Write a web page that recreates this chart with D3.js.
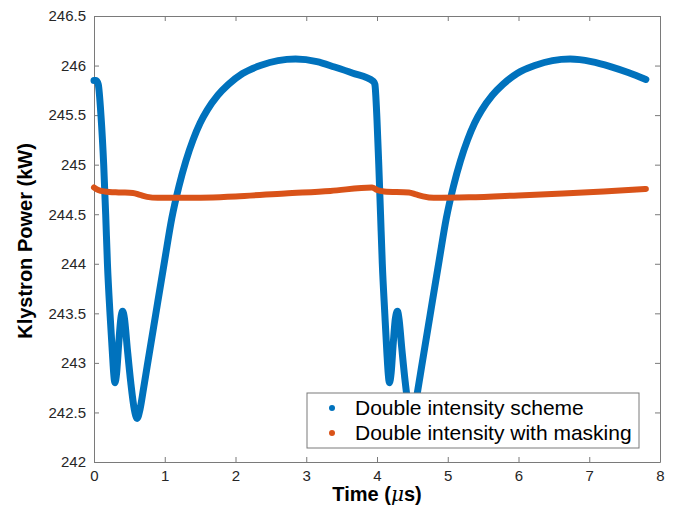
<!DOCTYPE html>
<html>
<head>
<meta charset="utf-8">
<script src="https://cdn.jsdelivr.net/npm/d3@7"></script>
<style>
  html, body { margin: 0; padding: 0; background: #fff; }
  svg { display: block; font-family: "Liberation Sans", Arial, Helvetica, sans-serif; }
</style>
</head>
<body>
<svg id="chart" width="675" height="510"></svg>
<script>
// ---- data ----
const blueTime = [0, 0.03, 0.06, 0.1, 0.137, 0.165, 0.19, 0.226, 0.26, 0.28, 0.295, 0.32, 0.35, 0.38, 0.405, 0.43, 0.47, 0.52, 0.57, 0.61, 0.65, 0.70, 0.75, 0.87, 1.0, 1.1, 1.2, 1.3, 1.4, 1.5, 1.6, 1.75, 1.9, 2.1, 2.35, 2.6, 2.85, 3.15, 3.4, 3.65, 3.95,
  3.97, 4.00, 4.025, 4.05, 4.075, 4.11, 4.14, 4.16, 4.175, 4.20, 4.23, 4.26, 4.29, 4.31, 4.35, 4.40, 4.45, 4.49, 4.53, 4.58, 4.63, 4.75, 4.88, 4.98, 5.08, 5.18, 5.28, 5.38, 5.48, 5.63, 5.78, 5.98, 6.23, 6.48, 6.73, 7.03, 7.3, 7.55, 7.8];
const bluePower = [245.85, 245.85, 245.81, 245.48, 245.0, 244.5, 244.0, 243.5, 243.1, 242.88, 242.8, 242.9, 243.2, 243.45, 243.52, 243.45, 243.15, 242.8, 242.53, 242.44, 242.53, 242.74, 242.96, 243.48, 244.04, 244.46, 244.78, 245.04, 245.25, 245.42, 245.55, 245.70, 245.81, 245.92, 246.0, 246.05, 246.065, 246.04, 245.985, 245.925, 245.84,
  245.81, 245.45, 245.0, 244.5, 244.0, 243.5, 243.1, 242.88, 242.8, 242.9, 243.2, 243.45, 243.52, 243.45, 243.15, 242.8, 242.53, 242.44, 242.53, 242.74, 242.96, 243.48, 244.04, 244.46, 244.78, 245.04, 245.25, 245.42, 245.55, 245.70, 245.81, 245.92, 246.0, 246.05, 246.065, 246.04, 245.99, 245.93, 245.86];

const orangeTime = [0, 0.06, 0.15, 0.35, 0.55, 0.65, 0.75, 0.9, 1.3, 2.0, 2.7, 3.34, 3.93, 4.0, 4.1, 4.45, 4.55, 4.65, 4.8, 5.3, 6.0, 6.63, 7.2, 7.8];
const orangePower = [244.77, 244.745, 244.73, 244.72, 244.715, 244.695, 244.675, 244.665, 244.665, 244.68, 244.71, 244.735, 244.77, 244.745, 244.73, 244.72, 244.70, 244.68, 244.665, 244.67, 244.69, 244.71, 244.73, 244.755];

const xTicks = [0, 1, 2, 3, 4, 5, 6, 7, 8];
const yTicks = [242, 242.5, 243, 243.5, 244, 244.5, 245, 245.5, 246, 246.5];
const seriesNames = ["Double intensity scheme", "Double intensity with masking"];
const seriesColors = ["#0072BD", "#D95319"];

// ---- layout ----
const W = 675, H = 510;
const m = { left: 94, top: 16, right: 15, bottom: 48 };
const svg = d3.select("#chart");
const x = d3.scaleLinear().domain([0, 8]).range([m.left, W - m.right]);
const y = d3.scaleLinear().domain([242, 246.5]).range([H - m.bottom, m.top]);
const axisColor = "#7a7a7a";
const textColor = "#262626";

// axes
function styleAxis(g) {
  g.selectAll("path.domain").attr("stroke", axisColor).attr("stroke-width", 1);
  g.selectAll(".tick line").attr("stroke", axisColor).attr("stroke-width", 1);
  g.selectAll(".tick text").attr("fill", textColor).attr("font-size", 15)
    .attr("font-family", "'Liberation Sans', Arial, Helvetica, sans-serif");
}
const gx = svg.append("g").attr("transform", `translate(0,${H - m.bottom})`)
  .call(d3.axisBottom(x).tickValues(xTicks).tickFormat(d3.format("d")).tickSizeInner(-5).tickSizeOuter(0).tickPadding(8));
styleAxis(gx);
const gxTop = svg.append("g").attr("transform", `translate(0,${m.top})`)
  .call(d3.axisTop(x).tickValues(xTicks).tickFormat("").tickSizeInner(-5).tickSizeOuter(0));
styleAxis(gxTop);
const gy = svg.append("g").attr("transform", `translate(${m.left},0)`)
  .call(d3.axisLeft(y).tickValues(yTicks).tickFormat(d => String(d)).tickSizeInner(-5).tickSizeOuter(0).tickPadding(8));
styleAxis(gy);
const gyR = svg.append("g").attr("transform", `translate(${W - m.right},0)`)
  .call(d3.axisRight(y).tickValues(yTicks).tickFormat("").tickSizeInner(-5).tickSizeOuter(0));
styleAxis(gyR);

// series (drawn above the axes, as in the reference)
const blueData = blueTime.map((t, i) => [t, bluePower[i]]);
const orangeData = orangeTime.map((t, i) => [t, orangePower[i]]);
const line = d3.line().x(d => x(d[0])).y(d => y(d[1])).curve(d3.curveMonotoneX);

svg.append("path").datum(blueData).attr("d", line)
  .attr("fill", "none").attr("stroke", seriesColors[0]).attr("stroke-width", 7)
  .attr("stroke-linejoin", "round").attr("stroke-linecap", "round");
svg.append("path").datum(orangeData).attr("d", line)
  .attr("fill", "none").attr("stroke", seriesColors[1]).attr("stroke-width", 6)
  .attr("stroke-linejoin", "round").attr("stroke-linecap", "round");

// axis labels
const xl = svg.append("text").attr("x", (m.left + W - m.right) / 2).attr("y", 501)
  .attr("text-anchor", "middle").attr("font-size", 20).attr("font-weight", "bold").attr("fill", "#000");
xl.append("tspan").text("Time (");
xl.append("tspan").attr("font-style", "italic").attr("font-family", "'DejaVu Serif', serif").attr("font-weight", "normal").text("\u03bc");
xl.append("tspan").text("s)");

svg.append("text").attr("transform", `translate(32,${(m.top + H - m.bottom) / 2 + 2}) rotate(-90)`)
  .attr("text-anchor", "middle").attr("font-size", 20).attr("font-weight", "bold").attr("fill", "#000")
  .text("Klystron Power (kW)");

// legend
const lg = svg.append("g");
lg.append("rect").attr("x", 307).attr("y", 393).attr("width", 332).attr("height", 55)
  .attr("fill", "#fff").attr("stroke", axisColor).attr("stroke-width", 1);
seriesNames.forEach((name, i) => {
  const cy = 408 + i * 25;
  lg.append("circle").attr("cx", 332).attr("cy", cy).attr("r", 3).attr("fill", seriesColors[i]);
  lg.append("text").attr("x", 355).attr("y", cy + 7).attr("font-size", 21).attr("fill", "#000").text(name);
});
</script>
</body>
</html>
